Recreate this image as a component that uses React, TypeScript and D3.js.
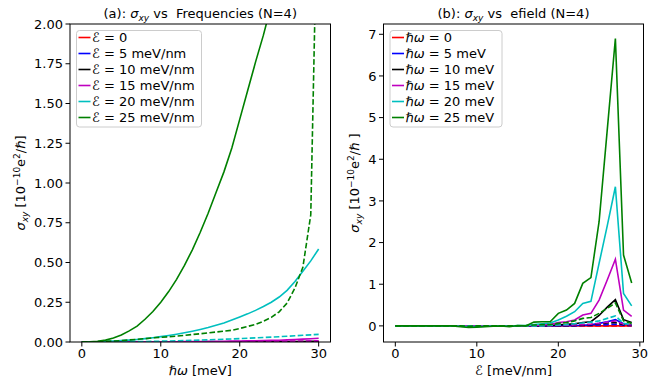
import React from "react";
import * as d3 from "d3";

// ---------- DATA ----------
const omega = [0,1,2,3,4,5,6,7,8,9,10,11,12,13,14,15,16,17,18,19,20,21,22,23,24,25,26,27,28,29,30];
const fieldLabelsA = ["0", "5 meV/nm", "10 meV/nm", "15 meV/nm", "20 meV/nm", "25 meV/nm"];
const seriesColors = ["#ff0000", "#0000ff", "#000000", "#bf00bf", "#00bfbf", "#008000"];

// panel (a): sigma_xy vs hbar*omega, one per field
const aE0Solid = [0,0,0,0,0,0,0,0,0,0,0,0,0,0,0,0,0,0,0,0,0,0,0,0,0,0,0,0,0,0,0];
const aE0Dash = [0,0,0,0,0,0,0,0,0,0,0,0,0,0,0,0,0,0,0,0,0,0,0,0,0,0,0,0,0,0,0];
const aE5Solid = [0,0,0,0,0,0,0,0,0,0,0.0001,0.0001,0.0001,0.0001,0.0001,0.0002,0.0002,0.0002,0.0002,0.0003,0.0003,0.0003,0.0004,0.0004,0.0005,0.0005,0.0006,0.0006,0.0007,0.0008,0.0009];
const aE5Dash = [0,0,0,0,0,0,0,0,0,0,0,0,0.0001,0.0001,0.0001,0.0001,0.0001,0.0001,0.0002,0.0002,0.0002,0.0002,0.0003,0.0003,0.0003,0.0003,0.0004,0.0004,0.0004,0.0005,0.0005];
const aE10Solid = [0,0,0,0,0,0.0001,0.0001,0.0001,0.0002,0.0002,0.0003,0.0003,0.0004,0.0005,0.0006,0.0007,0.0008,0.0009,0.001,0.0012,0.0014,0.0016,0.0018,0.002,0.0022,0.0025,0.0028,0.0031,0.0034,0.0037,0.004];
const aE10Dash = [0,0,0,0,0,0,0.0001,0.0001,0.0001,0.0001,0.0002,0.0002,0.0002,0.0003,0.0003,0.0004,0.0004,0.0005,0.0006,0.0006,0.0007,0.0008,0.0009,0.001,0.0011,0.0012,0.0014,0.0015,0.0017,0.0018,0.002];
const aE15Solid = [0,0,0.0001,0.0002,0.0002,0.0004,0.0005,0.0007,0.0009,0.0011,0.0014,0.0017,0.002,0.0024,0.0027,0.0032,0.0037,0.0042,0.0049,0.0056,0.0064,0.0072,0.008,0.009,0.01,0.0114,0.0132,0.0154,0.018,0.0204,0.0234];
const aE15Dash = [0,0,0,0.0001,0.0001,0.0001,0.0002,0.0003,0.0003,0.0004,0.0005,0.0006,0.0008,0.0009,0.0011,0.0013,0.0015,0.0017,0.0019,0.0022,0.0025,0.0028,0.0032,0.0036,0.004,0.0045,0.005,0.0056,0.0063,0.007,0.0078];
const aE20Solid = [0,0.001,0.002,0.004,0.006,0.009,0.012,0.016,0.021,0.027,0.034,0.041,0.049,0.058,0.068,0.079,0.091,0.105,0.12,0.138,0.157,0.177,0.199,0.223,0.25,0.283,0.325,0.38,0.445,0.51,0.585];
const aE20Dash = [0,0,0.0002,0.0005,0.001,0.0013,0.002,0.0026,0.0034,0.0043,0.0053,0.0064,0.0077,0.009,0.0104,0.012,0.0137,0.0154,0.0173,0.0193,0.0213,0.0235,0.0258,0.0282,0.0307,0.0333,0.036,0.039,0.042,0.045,0.048];
const aE25Solid = [0,0.001,0.0045,0.012,0.025,0.044,0.07,0.1,0.143,0.192,0.25,0.317,0.394,0.482,0.58,0.69,0.81,0.94,1.07,1.22,1.4,1.58,1.76,1.93,2.12,2.33,2.55,2.8,3.05,3.3,3.6];
const aE25Dash = [0,0.001,0.002,0.004,0.006,0.009,0.013,0.017,0.021,0.026,0.03,0.033,0.037,0.042,0.047,0.052,0.057,0.063,0.068,0.074,0.085,0.098,0.11,0.13,0.155,0.19,0.245,0.34,0.47,0.8,3.2];

// panel (b): sigma_xy vs field, one per frequency
const efield = [0,1,2,3,4,5,6,7,8,9,10,11,12,13,14,15,16,17,18,19,20,21,22,23,24,25,26,27,28,29];
const freqLabelsB = ["0", "5 meV", "10 meV", "15 meV", "20 meV", "25 meV"];
const bW0Solid = [0,0,0,0,0,0,0,0,0,0,0,0,0,0,0,0,0,0,0,0,0,0,0,0,0,0,0,0,0,0];
const bW0Dash = [0,0,0,0,0,0,0,0,0,0,0,0,0,0,0,0,0,0,0,0,0,0,0,0,0,0,0,0,0,0];
const bW5Solid = [0,0,0,0,0,0,0,0,0,0,0,0,0,0,0,0,0,0,0,0,0.005,0.008,0.01,0.015,0.025,0.06,0.1,0.15,0.05,0.02];
const bW5Dash = [0,0,0,0,0,0,0,0,0,0,0,0,0,0,0,0,0,0,0,0,0.002,0.003,0.005,0.008,0.012,0.02,0.03,0.04,0.015,0.005];
const bW10Solid = [0,0,0,0,0,0,0,0,0,0,0,0,0,0,0,0,0,0.003,0.005,0.01,0.025,0.035,0.05,0.08,0.1,0.25,0.45,0.63,0.15,0.08];
const bW10Dash = [0,0,0,0,0,0,0,0,0,0,0,0,0,0,0,0,0,0,0,0,0.005,0.008,0.012,0.02,0.03,0.05,0.07,0.08,0.03,0.015];
const bW15Solid = [0,0,0,0,0,0,0,0,0,0,0,0,0,0,0,0,0,0.01,0.02,0.03,0.08,0.1,0.14,0.26,0.3,0.62,1.1,1.6,0.38,0.23];
const bW15Dash = [0,0,0,0,0,0,0,0,0,0,0,0,0,0,0,0,0,0,0,0,0.01,0.015,0.02,0.03,0.04,0.06,0.09,0.12,0.04,0.02];
const bW20Solid = [0,0,0,0,0,0,0,0,-0.01,-0.02,-0.015,-0.01,-0.005,0,-0.01,0.005,0.01,0.03,0.05,0.07,0.14,0.23,0.34,0.54,0.59,1.5,2.4,3.34,0.78,0.48];
const bW20Dash = [0,0,0,0,0,0,0,0,0,0,0,0,0,0,0,0,0,0,0,0.01,0.02,0.03,0.05,0.07,0.09,0.12,0.18,0.24,0.06,0.03];
const bW25Solid = [0,0,0,0,0,0,0,0,-0.02,-0.04,-0.03,-0.02,-0.01,0,-0.02,0.01,0,0.09,0.1,0.1,0.3,0.38,0.54,1.02,1.16,2.5,4.7,6.9,1.7,1.03];
const bW25Dash = [0,0,0,0,0,0,0,0,0,-0.01,0,0,0,0,0,0,0.005,0.02,0.03,0.03,0.06,0.08,0.12,0.18,0.2,0.3,0.42,0.55,0.12,0.06];

const yTicksA = [0, 0.25, 0.5, 0.75, 1.0, 1.25, 1.5, 1.75, 2.0];
const xTicksA = [0, 10, 20, 30];
const yTicksB = [0, 1, 2, 3, 4, 5, 6, 7];
const xTicksB = [0, 10, 20, 30];

const solidA = [aE0Solid, aE5Solid, aE10Solid, aE15Solid, aE20Solid, aE25Solid];
const dashA = [aE0Dash, aE5Dash, aE10Dash, aE15Dash, aE20Dash, aE25Dash];
const solidB = [bW0Solid, bW5Solid, bW10Solid, bW15Solid, bW20Solid, bW25Solid];
const dashB = [bW0Dash, bW5Dash, bW10Dash, bW15Dash, bW20Dash, bW25Dash];

// ---------- LAYOUT ----------
const W = 669, H = 387;
const FONT = "DejaVu Sans, Verdana, sans-serif";
const FS = 13;
const LW = 1.6;
const DASH = "5.6,2.4";
const top = 24, bottom = 342;
const A = { x0: 70, x1: 330.5 };
const B = { x0: 383.5, x1: 643.5 };

function Panel({ x0, x1, xs, ys, xarr, solids, dashes, xTicks, yTicks, yFmt, id, legendLabels, legendMath, legendWidth }) {
  const mk = (vals) => {
    const pts = vals.map((v, i) => [xarr[i], v] as [number, number]);
    return d3.line<[number, number]>().x((d) => xs(d[0])).y((d) => ys(d[1]))(pts);
  };
  const lx = x0 + 6.5;
  const ly = top + 6.5;
  return (
    <g>
      <defs>
        <clipPath id={id}>
          <rect x={x0} y={top} width={x1 - x0} height={bottom - top} />
        </clipPath>
      </defs>
      <g clipPath={`url(#${id})`}>
        {solids.map((s, k) => (
          <g key={k}>
            <path d={mk(s)} fill="none" stroke={seriesColors[k]} strokeWidth={LW} />
            <path d={mk(dashes[k])} fill="none" stroke={seriesColors[k]} strokeWidth={LW} strokeDasharray={DASH} />
          </g>
        ))}
      </g>
      <rect x={x0} y={top} width={x1 - x0} height={bottom - top} fill="none" stroke="#000" strokeWidth={1} />
      {xTicks.map((t) => (
        <g key={"x" + t}>
          <line x1={xs(t)} x2={xs(t)} y1={bottom} y2={bottom + 4.5} stroke="#000" strokeWidth={1} />
          <text x={xs(t)} y={bottom + 16} fontSize={FS} textAnchor="middle" fontFamily={FONT}>{t}</text>
        </g>
      ))}
      {yTicks.map((t) => (
        <g key={"y" + t}>
          <line x1={x0 - 4.5} x2={x0} y1={ys(t)} y2={ys(t)} stroke="#000" strokeWidth={1} />
          <text x={x0 - 7} y={ys(t) + 4.7} fontSize={FS} textAnchor="end" fontFamily={FONT}>{yFmt(t)}</text>
        </g>
      ))}
      <g>
        <rect x={lx} y={ly} width={legendWidth} height={96.5} rx={3} fill="#fff" fillOpacity={0.8} stroke="#cccccc" strokeWidth={1} />
        {legendLabels.map((lab, k) => {
          const yy = ly + 7 + k * 16;
          return (
            <g key={k}>
              <line x1={lx + 2} x2={lx + 14} y1={yy} y2={yy} stroke={seriesColors[k]} strokeWidth={LW} />
              <text x={lx + 15.5} y={yy + 4.7} fontSize={FS} fontFamily={FONT}>
                {legendMath}
                <tspan> = {lab}</tspan>
              </text>
            </g>
          );
        })}
      </g>
    </g>
  );
}

function YLabel({ x, y, extraSpace }) {
  return (
    <text transform={`translate(${x},${y}) rotate(-90)`} textAnchor="middle" fontSize={FS} fontFamily={FONT} style={{ whiteSpace: "pre" }}>
      <tspan fontStyle="italic">σ</tspan>
      <tspan fontStyle="italic" fontSize={9} dy={3}>xy</tspan>
      <tspan dy={-3}> [10</tspan>
      <tspan fontSize={9} dy={-5}>−10</tspan>
      <tspan dy={5}>e</tspan>
      <tspan fontSize={9} dy={-5}>2</tspan>
      <tspan dy={5}>/</tspan>
      <tspan fontStyle="italic">ℏ</tspan>
      <tspan>{extraSpace ? " ]" : "]"}</tspan>
    </text>
  );
}

export default function App() {
  const xsA = d3.scaleLinear().domain([-1.5, 31.5]).range([A.x0, A.x1]);
  const ysA = d3.scaleLinear().domain([0, 2]).range([bottom, top]);
  const allB = [...solidB, ...dashB].flat();
  const [mn, mx] = d3.extent(allB) as [number, number];
  const pad = (mx - mn) * 0.05;
  const xsB = d3.scaleLinear().domain([-1.45, 30.45]).range([B.x0, B.x1]);
  const ysB = d3.scaleLinear().domain([mn - pad, mx + pad]).range([bottom, top]);
  const cA = (A.x0 + A.x1) / 2;
  const cB = (B.x0 + B.x1) / 2;
  return (
    <svg width={W} height={H} style={{ position: "absolute", left: 0, top: 0, background: "#fff" }} fontFamily={FONT}>
      <rect x={0} y={0} width={W} height={H} fill="#fff" />
      <Panel x0={A.x0} x1={A.x1} xs={xsA} ys={ysA} xarr={omega} solids={solidA} dashes={dashA} xTicks={xTicksA} yTicks={yTicksA}
        yFmt={(t) => t.toFixed(2)} id="clipA" legendLabels={fieldLabelsA}
        legendMath={<tspan fontStyle="italic">ℰ</tspan>} legendWidth={125} />
      <Panel x0={B.x0} x1={B.x1} xs={xsB} ys={ysB} xarr={efield} solids={solidB} dashes={dashB} xTicks={xTicksB} yTicks={yTicksB}
        yFmt={(t) => String(t)} id="clipB" legendLabels={freqLabelsB}
        legendMath={<tspan fontStyle="italic">ℏω</tspan>} legendWidth={112} />
      <text x={cA} y={18} textAnchor="middle" fontSize={FS} style={{ whiteSpace: "pre" }}>
        (a): <tspan fontStyle="italic">σ</tspan><tspan fontStyle="italic" fontSize={9} dy={3}>xy</tspan><tspan dy={-3}> vs  Frequencies (N=4)</tspan>
      </text>
      <text x={cB} y={18} textAnchor="middle" fontSize={FS} style={{ whiteSpace: "pre" }}>
        (b): <tspan fontStyle="italic">σ</tspan><tspan fontStyle="italic" fontSize={9} dy={3}>xy</tspan><tspan dy={-3}> vs  efield (N=4)</tspan>
      </text>
      <text x={cA} y={375} textAnchor="middle" fontSize={FS}>
        <tspan fontStyle="italic">ℏω</tspan> [meV]
      </text>
      <text x={cB} y={375} textAnchor="middle" fontSize={FS}>
        <tspan fontStyle="italic">ℰ</tspan> [meV/nm]
      </text>
      <YLabel x={25} y={(top + bottom) / 2} extraSpace={false} />
      <YLabel x={359} y={(top + bottom) / 2} extraSpace={true} />
    </svg>
  );
}
